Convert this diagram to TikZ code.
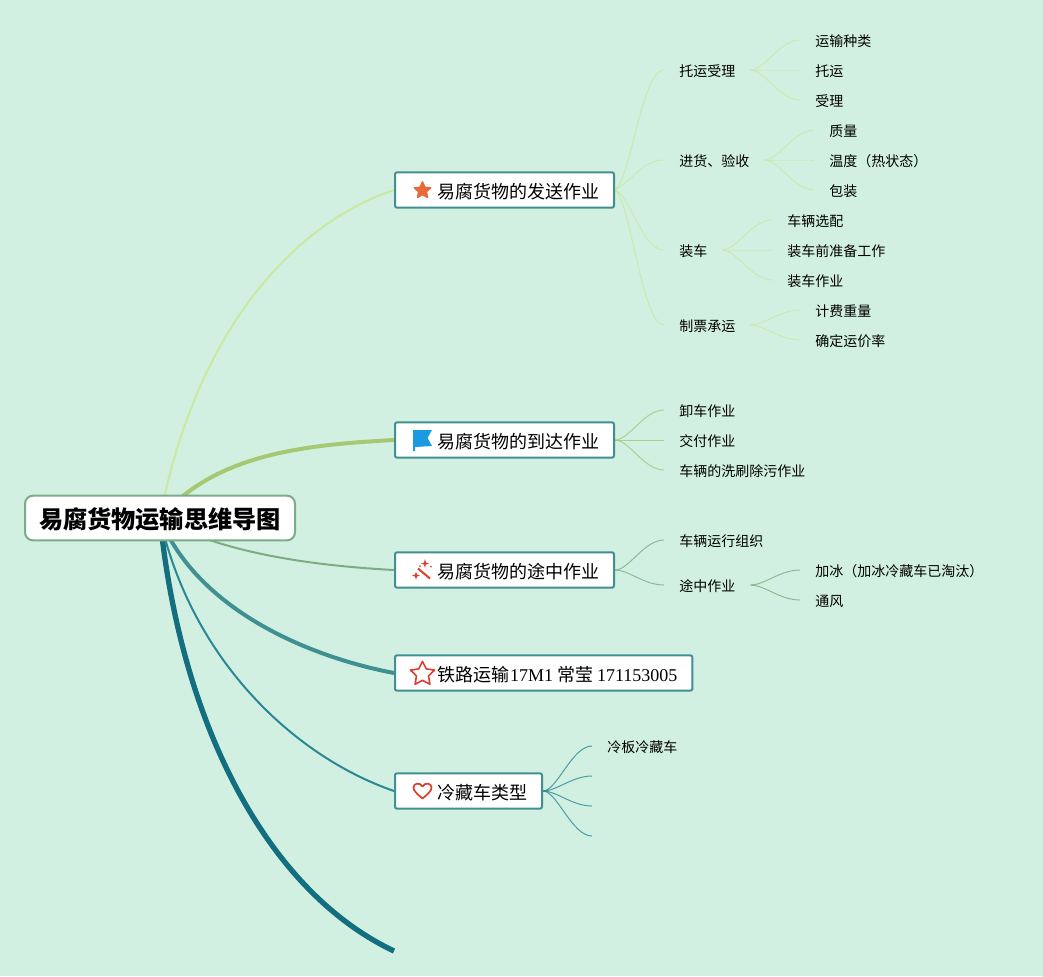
\documentclass[tikz,border=0pt]{standalone}
\usepackage{fontspec}
\usepackage{tikz}
\usetikzlibrary{shapes.geometric}
\usetikzlibrary{backgrounds}
\setmainfont{Noto Sans CJK SC}
\newfontfamily\latinfont{Liberation Serif}
\definecolor{d2f0e2}{rgb}{0.824,0.941,0.886}
\definecolor{c9e9a0}{rgb}{0.788,0.914,0.627}
\definecolor{a6c873}{rgb}{0.651,0.784,0.451}
\definecolor{7bad85}{rgb}{0.482,0.678,0.522}
\definecolor{3f9090}{rgb}{0.247,0.565,0.565}
\definecolor{2a8894}{rgb}{0.165,0.533,0.58}
\definecolor{136f7f}{rgb}{0.075,0.435,0.498}
\definecolor{e8693a}{rgb}{0.91,0.412,0.227}
\definecolor{1a9be0}{rgb}{0.102,0.608,0.878}
\definecolor{d9402f}{rgb}{0.851,0.251,0.184}
\tikzset{
  rootbox/.style={draw=7bad85,line width=1.5pt,fill=white,rounded corners=6pt,inner xsep=10.5pt,inner ysep=0pt,minimum height=33.5pt,text height=18pt,text depth=1.8pt,font=\fontsize{18.15pt}{20pt}\selectfont\bfseries},
  branchbox/.style={draw=3f9090,line width=1.5pt,fill=white,rounded corners=1.5pt,anchor=west,inner xsep=11.25pt,inner ysep=0pt,minimum height=26.5pt,text height=14pt,text depth=1pt,font=\fontsize{13.5pt}{15pt}\selectfont},
  leaf/.style={anchor=west,inner xsep=11.25pt,inner ysep=0pt,text height=10.5pt,text depth=1pt,font=\fontsize{10.5pt}{12pt}\selectfont},
  twig/.style={line width=0.75pt,opacity=0.8}
}
\begin{document}
\begin{tikzpicture}[line join=round,x=0.75pt,y=-0.75pt]
  \useasboundingbox (0,0) rectangle (1043,976);
  \node[rootbox] (root) at (160,518) {易腐货物运输思维导图};
  \node[branchbox] (send) at (394,190) {\hspace{20.25pt}易腐货物的发送作业};
  \node[branchbox] (arrive) at (394,440) {\hspace{20.25pt}易腐货物的到达作业};
  \node[branchbox] (way) at (394,570) {\hspace{20.25pt}易腐货物的途中作业};
  \node[branchbox] (author) at (394,673) {\hspace{20.25pt}铁路运输\hspace{0.75pt}{\latinfont 17M1} 常莹 {\latinfont 171153005}};
  \node[branchbox] (types) at (394,791) {\hspace{20.25pt}冷藏车类型};
  \coordinate (tail) at (394,951);

  \node[leaf] (accept) at (664,70) {托运受理};
  \node[leaf] (kind) at (800,40) {运输种类};
  \node[leaf] (ship) at (800,70) {托运};
  \node[leaf] (take) at (800,100) {受理};
  \node[leaf] (check) at (664,160) {进货、验收};
  \node[leaf] (mass) at (814,130) {质量};
  \node[leaf] (temp) at (814,160) {温度（热状态）};
  \node[leaf] (pack) at (814,190) {包装};
  \node[leaf] (load) at (664,250) {装车};
  \node[leaf] (pick) at (772,220) {车辆选配};
  \node[leaf] (prep) at (772,250) {装车前准备工作};
  \node[leaf] (loadjob) at (772,280) {装车作业};
  \node[leaf] (ticket) at (664,325) {制票承运};
  \node[leaf] (weight) at (800,310) {计费重量};
  \node[leaf] (rate) at (800,340) {确定运价率};

  \node[leaf] (unload) at (664,410) {卸车作业};
  \node[leaf] (hand) at (664,440) {交付作业};
  \node[leaf] (wash) at (664,470) {车辆的洗刷除污作业};

  \node[leaf] (run) at (664,540) {车辆运行组织};
  \node[leaf] (onway) at (664,585) {途中作业};
  \node[leaf] (ice) at (800,570) {加冰（加冰冷藏车已淘汰）};
  \node[leaf] (air) at (800,600) {通风};

  \node[leaf] (plate) at (592,746) {冷板冷藏车};
  \coordinate (typeb) at (592,776);
  \coordinate (typec) at (592,806);
  \coordinate (typed) at (592,836);

  % icons
  \node[star,star points=5,star point ratio=2.1,fill=e8693a,draw=e8693a,line width=1pt,inner sep=0pt,minimum size=13pt] (iconsend) at (422.5,190.5) {};
  \fill[1a9be0] (413,430) -- (432,430) -- (427.5,438) -- (432,446) -- (415,447) -- (415,451) -- (413,451) -- cycle;
  \draw[d9402f,line width=1.5pt] (418,568.5) -- (430,578.5);
  \fill[d9402f] (425,559) -- (426,562.5) -- (429,563.5) -- (426,564.5) -- (425,568) -- (424,564.5) -- (421,563.5) -- (424,562.5) -- cycle;
  \fill[d9402f] (416,571.5) -- (417,574.5) -- (420,575.5) -- (417,576.5) -- (416,579.5) -- (415,576.5) -- (412,575.5) -- (415,574.5) -- cycle;
  \fill[d9402f] (431,566.5) circle (1);
  \fill[d9402f] (420,566) circle (1);
  \node[star,star points=5,star point ratio=2,draw=d9402f,line width=1.2pt,inner sep=0pt,minimum size=19pt] (iconauthor) at (422.5,674) {};
  \draw[d9402f,line width=1.3pt] (422.5,798.5) .. controls (416,793) and (413.5,790.5) .. (413.5,787.5) .. controls (413.5,783) and (420,782) .. (422.5,786.5) .. controls (425,782) and (431.5,783) .. (431.5,787.5) .. controls (431.5,790.5) and (429,793) .. (422.5,798.5) -- cycle;

  \begin{pgfonlayer}{background}
    \fill[d2f0e2] (0,0) rectangle (1043,976);
    \draw[c9e9a0,line width=1.5pt] (root.center) .. controls (195,335) and (290,225) .. (send.west);
    \draw[a6c873,line width=3pt] (root.center) .. controls (215,455) and (300,445) .. (arrive.west);
    \draw[7bad85,line width=1.5pt] (root.center) .. controls (215,550) and (300,565) .. (way.west);
    \draw[3f9090,line width=3pt] (root.center) .. controls (195,605) and (300,655) .. (author.west);
    \draw[2a8894,line width=1.5pt] (root.center) .. controls (190,655) and (290,755) .. (types.west);
    \draw[136f7f,line width=4pt] (root.center) .. controls (180,720) and (265,890) .. (tail);

    \foreach \a/\d in {accept/-12,check/-8,load/6,ticket/12}
      \draw[c9e9a0,twig] (send.east) .. controls +(16,\d) and +(-22,0) .. (\a.west);
    \foreach \a in {kind,ship,take}
      \draw[c9e9a0,twig] (accept.east) .. controls +(14,0) and +(-20,0) .. (\a.west);
    \foreach \a in {mass,temp,pack}
      \draw[c9e9a0,twig] (check.east) .. controls +(14,0) and +(-20,0) .. (\a.west);
    \foreach \a in {pick,prep,loadjob}
      \draw[c9e9a0,twig] (load.east) .. controls +(14,0) and +(-20,0) .. (\a.west);
    \foreach \a in {weight,rate}
      \draw[c9e9a0,twig] (ticket.east) .. controls +(14,0) and +(-20,0) .. (\a.west);
    \foreach \a in {unload,hand,wash}
      \draw[a6c873,twig] (arrive.east) .. controls +(14,0) and +(-20,0) .. (\a.west);
    \foreach \a in {run,onway}
      \draw[7bad85,twig] (way.east) .. controls +(14,0) and +(-20,0) .. (\a.west);
    \foreach \a in {ice,air}
      \draw[7bad85,twig] (onway.east) .. controls +(14,0) and +(-20,0) .. (\a.west);
    \draw[2a8894,twig] (types.east) .. controls +(14,0) and +(-20,0) .. (plate.west);
    \foreach \a in {typeb,typec,typed}
      \draw[2a8894,twig] (types.east) .. controls +(14,0) and +(-20,0) .. (\a);
  \end{pgfonlayer}
\end{tikzpicture}
\end{document}
